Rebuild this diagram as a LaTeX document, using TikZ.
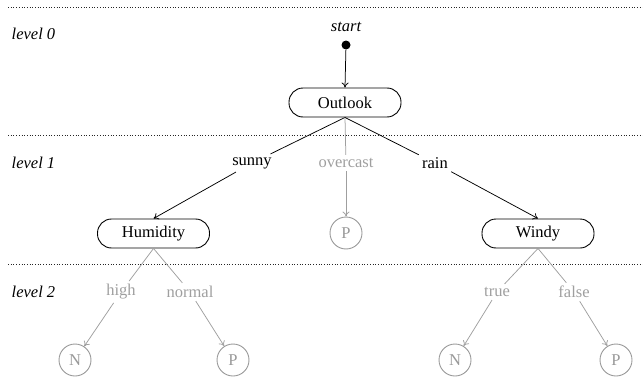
\documentclass[tikz,border=0pt]{standalone}
\usepackage{fontspec}
\setmainfont{Liberation Serif}
\usetikzlibrary{arrows.meta}
\begin{document}
\begin{tikzpicture}[x=1pt,y=-1pt,
  line width=0.75pt,
  font=\fontsize{16.5}{18}\selectfont,
  dec/.style={draw,line width=0.9pt,rounded corners=14pt,minimum width=112pt,minimum height=29pt,inner sep=0pt},
  leaf/.style={draw=gray!80,line width=0.9pt,text=gray!80,circle,minimum size=32pt,inner sep=0pt},
  lbl/.style={inner sep=3pt},
  glbl/.style={inner sep=3pt,text=gray!75},
  sep/.style={dotted,line width=0.7pt,draw=black!85},
  lvl/.style={anchor=west,font=\fontsize{16.5}{18}\selectfont\itshape},
  arr/.style={-{To[length=5pt,width=7pt]}},
  garr/.style={-{To[length=5pt,width=7pt]},draw=gray!75}]
\useasboundingbox (0,0) rectangle (643,380);
\coordinate (s1a) at (8,7); \coordinate (s1b) at (643,7);
\coordinate (s2a) at (8,135); \coordinate (s2b) at (643,135);
\coordinate (s3a) at (8,264); \coordinate (s3b) at (643,264);
\draw[sep] (s1a) -- (s1b);
\draw[sep] (s2a) -- (s2b);
\draw[sep] (s3a) -- (s3b);
\node[lvl] (l0) at (8,34) {level 0};
\node[lvl] (l1) at (8,163) {level 1};
\node[lvl] (l2) at (8,292) {level 2};
\node[font=\fontsize{16.5}{18}\selectfont\itshape] (st) at (346,27) {start};
\node[circle,fill=black,inner sep=0pt,minimum size=9pt] (dot) at (346,45) {};
\node[dec] (O) at (345,102.5) {Outlook};
\node[dec] (H) at (153.5,233.5) {Humidity};
\node[dec] (W) at (538,233.5) {Windy};
\node[leaf] (P0) at (346,233) {P};
\node[lbl] (sun) at (252,163) {sunny};
\node[glbl] (ov) at (346,163) {overcast};
\node[lbl] (rain) at (435,163) {rain};
\node[glbl] (hi) at (121,292) {high};
\node[glbl] (no) at (190,292) {normal};
\node[glbl] (tr) at (497,292) {true};
\node[glbl] (fa) at (574,292) {false};
\node[leaf] (N1) at (75,360) {N};
\node[leaf] (P1) at (233,360) {P};
\node[leaf] (N2) at (455,360) {N};
\node[leaf] (P2) at (616,360) {P};
\draw[arr] (dot) -- (O.north);
\draw (O.south) -- (sun);
\draw[arr] (sun) -- (H.north);
\draw[draw=gray!75] (O.south) -- (ov);
\draw[garr] (ov) -- (P0);
\draw (O.south) -- (rain);
\draw[arr] (rain) -- (W.north);
\draw[draw=gray!75] (H.south) -- (hi);
\draw[garr] (hi) -- (N1);
\draw[draw=gray!75] (H.south) -- (no);
\draw[garr] (no) -- (P1);
\draw[draw=gray!75] (W.south) -- (tr);
\draw[garr] (tr) -- (N2);
\draw[draw=gray!75] (W.south) -- (fa);
\draw[garr] (fa) -- (P2);
\end{tikzpicture}
\end{document}
